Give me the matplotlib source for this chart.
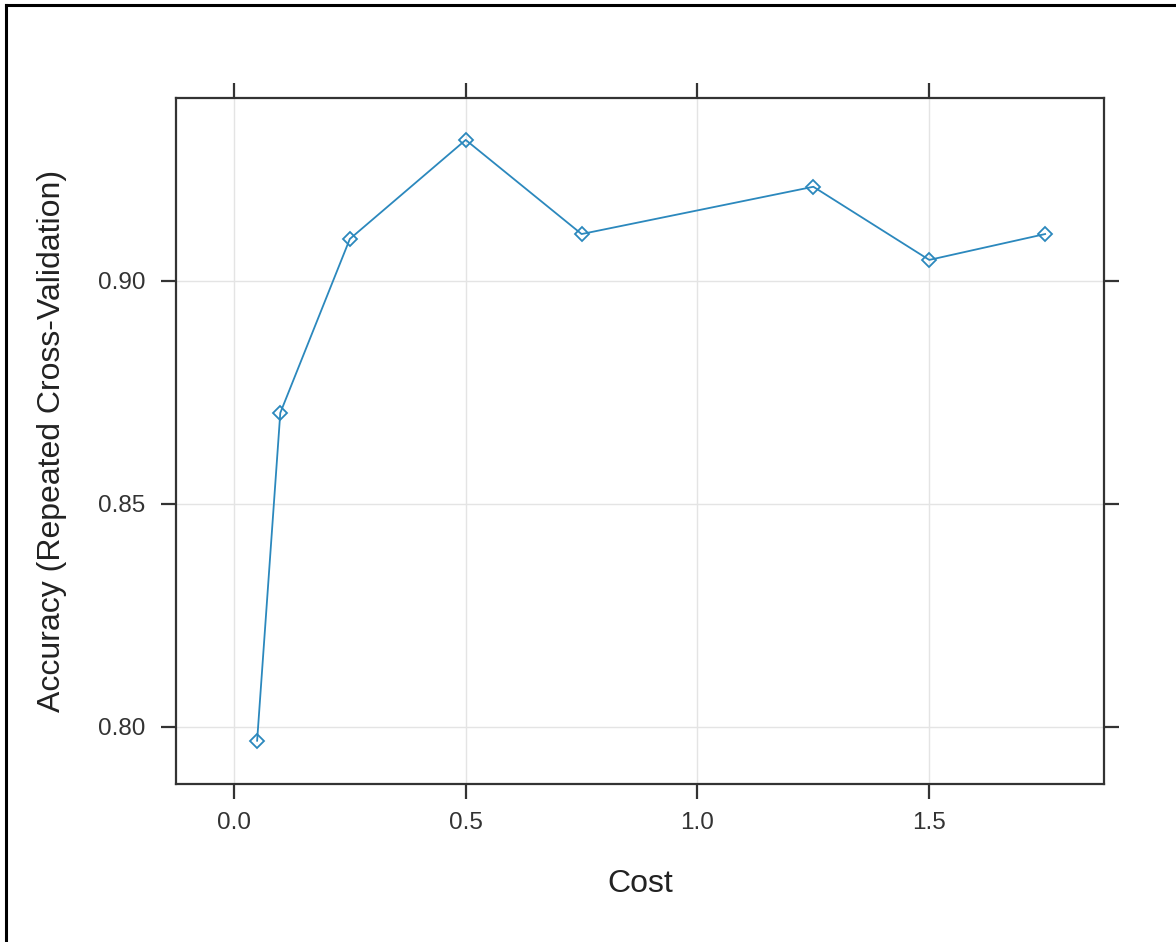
import matplotlib
matplotlib.use("Agg")
import matplotlib.pyplot as plt
from matplotlib.lines import Line2D

# Tuning results (cost vs repeated CV accuracy)
cost = [0.05, 0.10, 0.25, 0.50, 0.75, 1.25, 1.50, 1.75]
accuracy = [0.7969, 0.8704, 0.9094, 0.9316, 0.9105, 0.9211, 0.9047, 0.9105]

x_ticks = [0.0, 0.5, 1.0, 1.5]
x_tick_labels = ["0.0", "0.5", "1.0", "1.5"]
y_ticks = [0.80, 0.85, 0.90]
y_tick_labels = ["0.80", "0.85", "0.90"]

plt.rcParams['font.family'] = ['Liberation Sans', 'DejaVu Sans']

W, H = 1176, 942
fig = plt.figure(figsize=(W / 100, H / 100), dpi=100)
ax = fig.add_axes([176 / W, 1 - 784 / H, (1104 - 176) / W, (784 - 98) / H])

line_col = '#2b88bd'
ax.plot(cost, accuracy, color=line_col, linewidth=1.3, marker='D',
        markersize=7.2, markerfacecolor='none', markeredgecolor=line_col,
        markeredgewidth=1.3, zorder=3)

ax.set_xlim(-0.125, 1.877)
ax.set_ylim(0.7872, 0.9410)

ax.set_xticks(x_ticks)
ax.set_xticklabels(x_tick_labels)
ax.set_yticks(y_ticks)
ax.set_yticklabels(y_tick_labels)

ax.grid(True, color='#e4e4e4', linewidth=1.0, zorder=0)
ax.set_axisbelow(True)

for sp in ax.spines.values():
    sp.set_color('#333333')
    sp.set_linewidth(1.6)

ax.tick_params(axis='both', which='major', direction='out', length=11,
               width=1.6, color='#333333', labelcolor='#333333',
               labelsize=17.5, top=True, right=True,
               labeltop=False, labelright=False)
ax.tick_params(axis='x', pad=9)
ax.tick_params(axis='y', pad=11)

ax.set_xlabel('Cost', fontsize=23, color='#222222')
ax.set_ylabel('Accuracy (Repeated Cross-Validation)', fontsize=23, color='#222222')
ax.xaxis.label.set_va('center')
ax.yaxis.label.set_va('center')
ax.xaxis.set_label_coords(0.5, (784 - 884) / 686)
ax.yaxis.set_label_coords((52 - 176) / 928, 0.5)

# partial frame around the image (top and left edges)
fig.add_artist(Line2D([6 / W, 6 / W], [0, 1 - 5 / H], transform=fig.transFigure,
                      color='black', linewidth=2.2))
fig.add_artist(Line2D([6 / W, 1], [1 - 5 / H, 1 - 5 / H], transform=fig.transFigure,
                      color='black', linewidth=2.2))

fig.savefig('out.png', dpi=100, facecolor='white')
